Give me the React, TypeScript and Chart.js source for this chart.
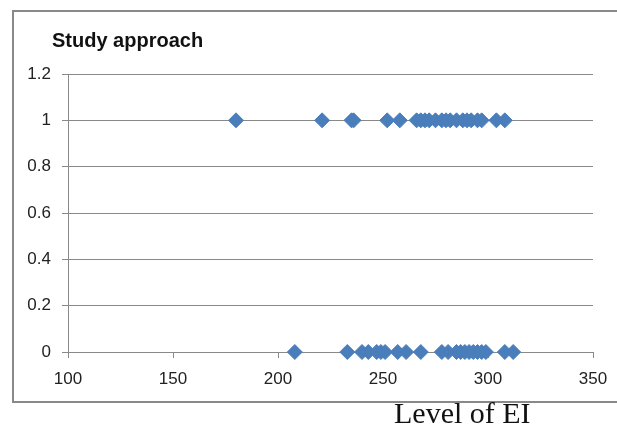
import React, { useEffect, useRef } from 'react'
import Chart from 'chart.js/auto'

// Level of EI for students with study approach = 1 and = 0
const eiApproachOne = [180, 221, 235, 236, 252, 258, 266, 268, 270, 272, 275, 278, 280, 282, 285, 288, 290, 292, 295, 297, 304, 308]
const eiApproachZero = [208, 233, 240, 243, 247, 249, 251, 257, 261, 268, 278, 281, 285, 287, 289, 291, 293, 295, 297, 299, 308, 312]
const approachValues = [1, 0]

const chartTitle = 'Study approach'
const xAxisTitle = 'Level of EI'

const GRID = '#898989'
const MARKER = '#4A7EBB'

const App: React.FC = () => {
  const chartRef = useRef<HTMLCanvasElement | null>(null)

  useEffect(() => {
    if (!chartRef.current) return
    const ctx = chartRef.current.getContext('2d')
    if (!ctx) return

    const points = [
      ...eiApproachOne.map((x) => ({ x, y: approachValues[0] })),
      ...eiApproachZero.map((x) => ({ x, y: approachValues[1] })),
    ]

    const chart = new Chart(ctx, {
      type: 'scatter',
      data: {
        datasets: [
          {
            label: chartTitle,
            data: points,
            backgroundColor: MARKER,
            borderColor: MARKER,
            borderWidth: 1,
            pointStyle: 'rectRot',
            pointRadius: 7.5,
            pointHoverRadius: 7.5,
            clip: false,
          },
        ],
      },
      options: {
        responsive: false,
        animation: false,
        layout: { padding: { left: 0, top: 74, right: 24, bottom: 38 } },
        plugins: {
          legend: { display: false },
          tooltip: { enabled: false },
        },
        scales: {
          x: {
            type: 'linear',
            min: 100,
            max: 350,
            afterFit: (scale) => {
              scale.height = 40
              scale.paddingLeft = 0
              scale.paddingRight = 0
            },
            ticks: {
              stepSize: 50,
              color: '#222',
              padding: 11,
              maxRotation: 0,
              font: { family: 'Liberation Sans', size: 17 },
            },
            grid: {
              drawOnChartArea: false,
              color: GRID,
              tickLength: 6,
            },
            border: { color: GRID, width: 1 },
          },
          y: {
            min: 0,
            max: 1.2,
            afterFit: (scale) => {
              scale.width = 68
            },
            ticks: {
              stepSize: 0.2,
              color: '#222',
              padding: 11,
              font: { family: 'Liberation Sans', size: 17 },
              callback: (value) => String(Math.round(Number(value) * 10) / 10),
            },
            grid: {
              color: GRID,
              tickLength: 6,
            },
            border: { color: GRID, width: 1 },
          },
        },
      },
    })

    return () => {
      chart.destroy()
    }
  }, [])

  return (
    <div style={{ position: 'absolute', left: 0, top: 0, width: 617, height: 430, overflow: 'hidden', background: '#fff' }}>
      <div
        style={{
          position: 'absolute',
          left: 12,
          top: 10,
          width: 660,
          height: 389,
          borderTop: `2px solid ${GRID}`,
          borderLeft: `2px solid ${GRID}`,
          borderBottom: `2px solid ${GRID}`,
        }}
      />
      <canvas ref={chartRef} width={617} height={430} style={{ position: 'absolute', left: 0, top: 0 }} />
      <div
        style={{
          position: 'absolute',
          left: 52,
          top: 30,
          fontFamily: 'Liberation Sans',
          fontWeight: 'bold',
          fontSize: 20,
          lineHeight: '20px',
          color: '#111',
          whiteSpace: 'nowrap',
        }}
      >
        {chartTitle}
      </div>
      <div
        style={{
          position: 'absolute',
          left: 394,
          top: 398,
          fontFamily: 'Liberation Serif',
          fontSize: 30,
          lineHeight: '30px',
          color: '#111',
          whiteSpace: 'nowrap',
        }}
      >
        {xAxisTitle}
      </div>
    </div>
  )
}

export default App
